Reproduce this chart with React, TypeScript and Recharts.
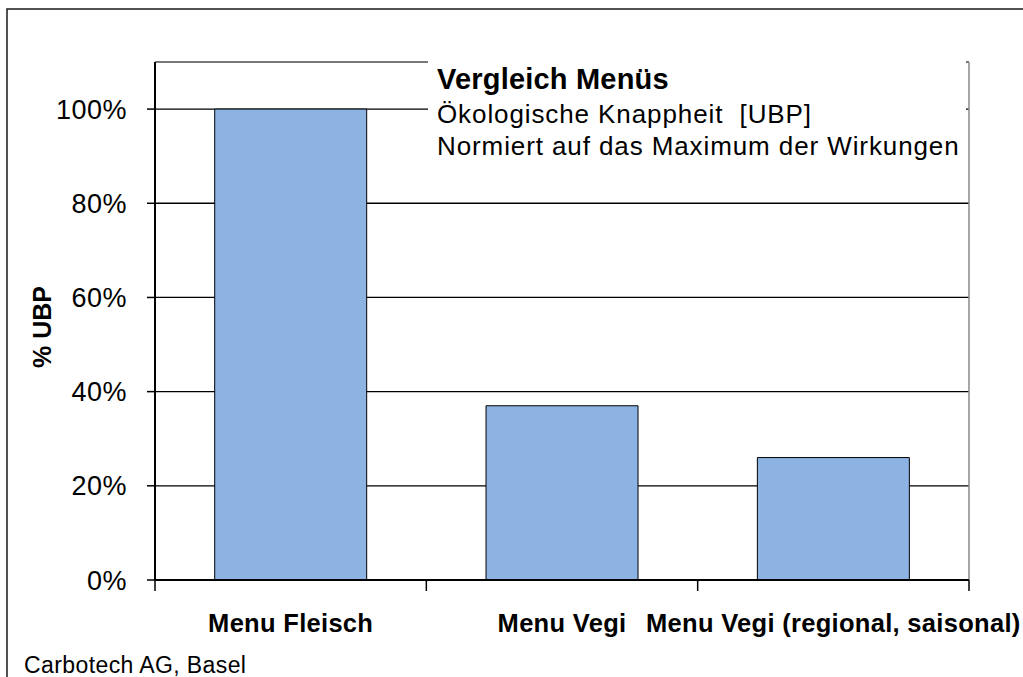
import React from 'react';
import { BarChart, Bar, XAxis, YAxis, CartesianGrid, ReferenceLine } from 'recharts';

const categories = ['Menu Fleisch', 'Menu Vegi', 'Menu Vegi (regional, saisonal)'];
const ubpShare = [1.0, 0.37, 0.26];
const yTicks = [0, 0.2, 0.4, 0.6, 0.8, 1.0];
const yMax = 1.1;
const chartTitle = 'Vergleich Menüs';
const subtitleLines = ['Ökologische Knappheit  [UBP]', 'Normiert auf das Maximum der Wirkungen'];
const yLabel = '% UBP';
const footer = 'Carbotech AG, Basel';

const data = categories.map((name, i) => ({ name, value: ubpShare[i] }));

const FONT = '"Liberation Sans", Arial, Helvetica, sans-serif';
const W = 1023;
const H = 677;

const XTick = (props: any) => {
  const { x, y, payload, index } = props;
  const half = payload && typeof payload.offset === 'number' && payload.offset > 0 ? payload.offset : 135.67;
  const isLast = index === categories.length - 1;
  return (
    <g>
      <line x1={x - half} x2={x - half} y1={y} y2={y + 11} stroke="#000" strokeWidth={1.5} />
      {isLast && <line x1={x + half} x2={x + half} y1={y} y2={y + 11} stroke="#000" strokeWidth={1.5} />}
      <text
        x={x}
        y={y + 52}
        textAnchor="middle"
        fontFamily={FONT}
        fontWeight="bold"
        fontSize={25.5}
        letterSpacing={0.3}
        fill="#000"
      >
        {payload.value}
      </text>
    </g>
  );
};

export default function App() {
  return (
    <div style={{ position: 'absolute', left: 0, top: 0, width: W, height: H, background: '#fff', overflow: 'hidden' }}>
      <BarChart
        width={W}
        height={H}
        data={data}
        margin={{ top: 62, right: 54, left: 80, bottom: 57 }}
        barCategoryGap="22%"
      >
        <CartesianGrid yAxisId="left" horizontal vertical={false} stroke="#000" strokeWidth={1.3} />
        <CartesianGrid
          yAxisId="left"
          horizontal={false}
          vertical
          stroke="#8a8a8a"
          strokeWidth={1.5}
          verticalCoordinatesGenerator={(p: any) => [p.offset.left + p.offset.width]}
        />
        <ReferenceLine y={yMax} yAxisId="left" stroke="#8a8a8a" strokeWidth={1.5} />
        <XAxis
          dataKey="name"
          type="category"
          height={40}
          axisLine={{ stroke: '#000', strokeWidth: 2 }}
          tickLine={false}
          tickSize={0}
          tickMargin={0}
          interval={0}
          tick={<XTick />}
        />
        <YAxis
          yAxisId="left"
          width={75}
          domain={[0, yMax]}
          ticks={yTicks}
          allowDataOverflow
          tickFormatter={(v: number) => `${Math.round(v * 100)}%`}
          axisLine={{ stroke: '#000', strokeWidth: 2 }}
          tickLine={{ stroke: '#000', strokeWidth: 1.5 }}
          tickSize={8}
          tickMargin={20}
          tick={{ fontFamily: FONT, fontSize: 27, fill: '#000', letterSpacing: 0.5 }}
        />
        <Bar
          yAxisId="left"
          dataKey="value"
          fill="#8DB3E2"
          stroke="#000"
          strokeWidth={1}
          isAnimationActive={false}
        />
      </BarChart>
      <svg
        width={W}
        height={H}
        style={{ position: 'absolute', left: 0, top: 0, pointerEvents: 'none' }}
      >
        <rect x={428} y={50} width={538} height={122} fill="#fff" />
        <text x={437} y={89} fontFamily={FONT} fontWeight="bold" fontSize={29} letterSpacing={0.2} fill="#000">
          {chartTitle}
        </text>
        {subtitleLines.map((line, i) => (
          <text
            key={i}
            x={437}
            y={123 + i * 32}
            fontFamily={FONT}
            fontSize={26}
            letterSpacing={0.9}
            fill="#000"
            style={{ whiteSpace: 'pre' }}
          >
            {line}
          </text>
        ))}
        <text
          x={0}
          y={0}
          transform="translate(51 327) rotate(-90)"
          textAnchor="middle"
          fontFamily={FONT}
          fontWeight="bold"
          fontSize={25}
          fill="#000"
        >
          {yLabel}
        </text>
        <text x={24} y={673} fontFamily={FONT} fontSize={23} letterSpacing={0.4} fill="#000">
          {footer}
        </text>
        <rect x={7} y={9} width={1100} height={1000} fill="none" stroke="#1a1a1a" strokeWidth={1.5} />
      </svg>
    </div>
  );
}
